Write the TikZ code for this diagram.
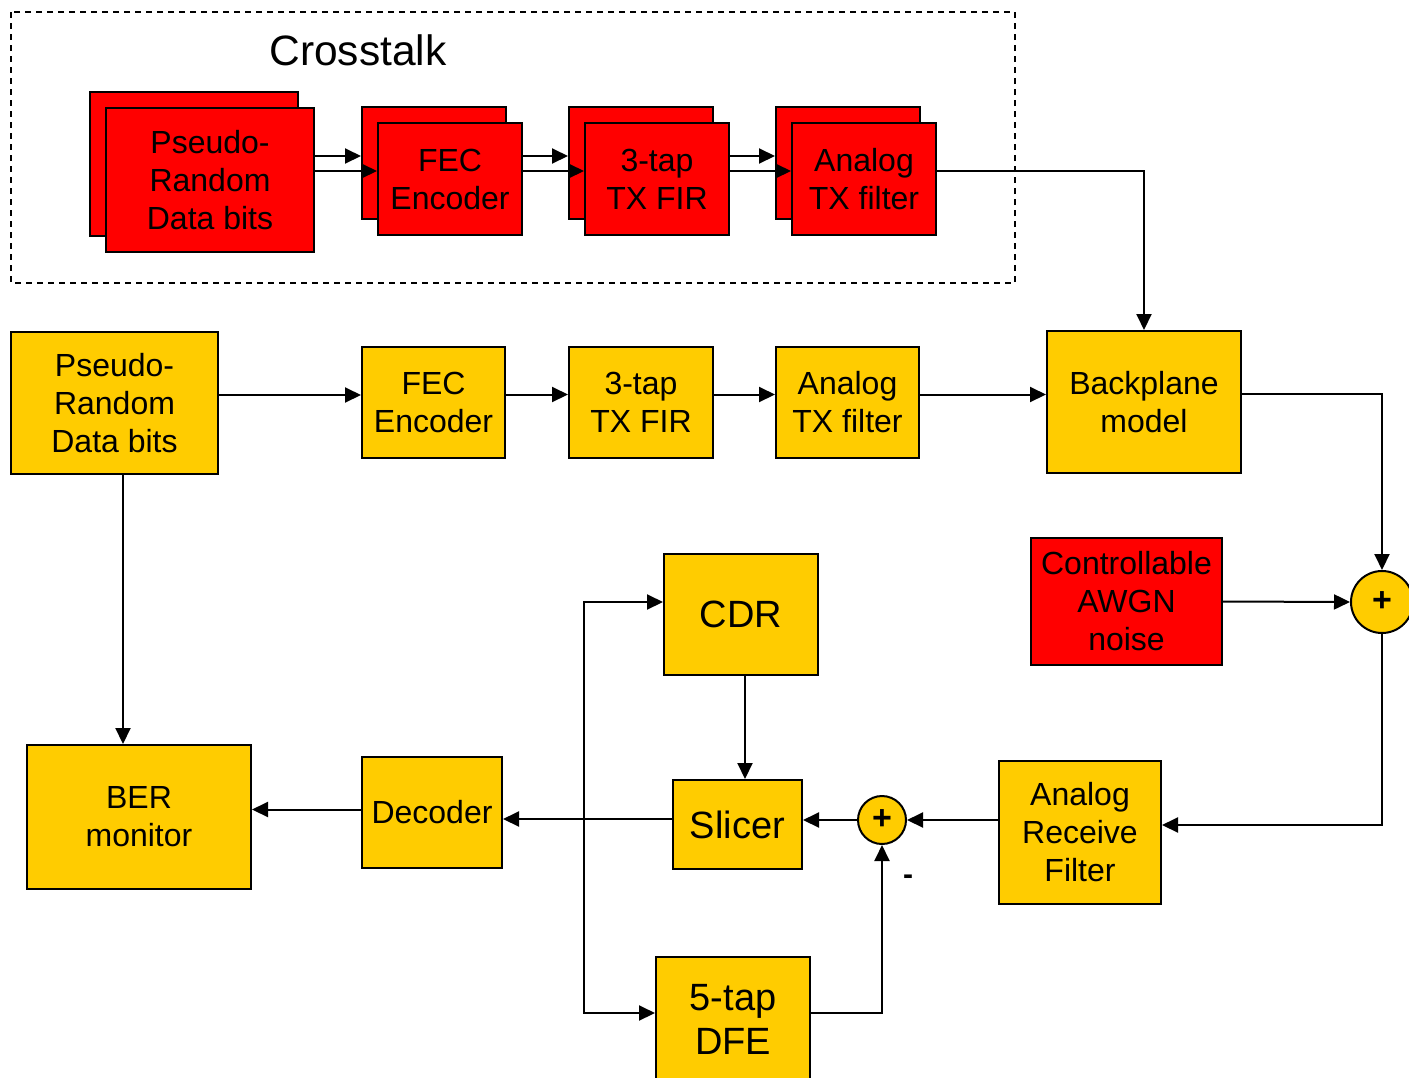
\documentclass[tikz,border=0pt]{standalone}
\usepackage{fontspec}
\setmainfont{Liberation Sans}
\usetikzlibrary{arrows.meta}
\definecolor{gold}{HTML}{FFCC00}
\definecolor{xred}{HTML}{FF0000}

\begin{document}
\begin{tikzpicture}[x=1pt, y=-1pt,
        blk/.style={draw, line width=2pt, fill=gold, align=center, inner sep=0pt,
            font=\fontsize{32}{38}\selectfont},
        xblk/.style={blk, fill=xred},
        big/.style={font=\fontsize{38}{44}\selectfont},
        sum/.style={draw, circle, line width=2pt, fill=gold, inner sep=0pt,
            font=\bfseries\fontsize{34}{34}\selectfont},
        arr/.style={line width=2pt, -{Triangle[length=16pt, width=15pt]}}]
    \useasboundingbox (0,0) rectangle (1409,1077);

    \draw[line width=1.5pt, dash pattern=on 6pt off 5pt] (11,12) rectangle (1015,283);
    \node (title) at (358,50) {\fontsize{42.5}{42.5}\selectfont Crosstalk};

    \node[xblk, minimum width=208pt, minimum height=144pt] (pb) at (194,164) {};
    \node[xblk, minimum width=208pt, minimum height=144pt] (pf) at (210,180) {Pseudo-\\Random\\Data bits};
    \node[xblk, minimum width=144pt, minimum height=112pt] (fb) at (434,163) {};
    \node[xblk, minimum width=144pt, minimum height=112pt] (ff) at (450,179) {FEC\\Encoder};
    \node[xblk, minimum width=144pt, minimum height=112pt] (tb) at (641,163) {};
    \node[xblk, minimum width=144pt, minimum height=112pt] (tf) at (657,179) {3-tap\\TX FIR};
    \node[xblk, minimum width=144pt, minimum height=112pt] (ab) at (848,163) {};
    \node[xblk, minimum width=144pt, minimum height=112pt] (af) at (864,179) {Analog\\TX filter};

    \draw[arr] (pf.east |- 0,156) -- (fb.west |- 0,156);
    \draw[arr] (pf.east |- 0,171) -- (ff.west |- 0,171);
    \draw[arr] (ff.east |- 0,156) -- (tb.west |- 0,156);
    \draw[arr] (ff.east |- 0,171) -- (tf.west |- 0,171);
    \draw[arr] (tf.east |- 0,156) -- (ab.west |- 0,156);
    \draw[arr] (tf.east |- 0,171) -- (af.west |- 0,171);

    \node[blk, minimum width=207pt, minimum height=142pt] (p1) at (114.5,403) {Pseudo-\\Random\\Data bits};
    \node[blk, minimum width=143pt, minimum height=111pt] (fec) at (433.5,402.5) {FEC\\Encoder};
    \node[blk, minimum width=144pt, minimum height=111pt] (fir) at (641,402.5) {3-tap\\TX FIR};
    \node[blk, minimum width=143pt, minimum height=111pt] (atx) at (847.5,402.5) {Analog\\TX filter};
    \node[blk, minimum width=194pt, minimum height=142pt] (bp) at (1144,402) {Backplane\\model};

    \node[sum, minimum size=62pt] (s1) at (1382,602) {+};
    \node[xblk, minimum width=191pt, minimum height=127pt] (noise) at (1126.5,601.5) {Controllable\\AWGN\\noise};
    \node[blk, minimum width=162pt, minimum height=143pt] (arf) at (1080,832.5) {Analog\\Receive\\Filter};
    \node[sum, minimum size=48pt] (s2) at (882,820) {+};
    \node[blk, big, minimum width=129pt, minimum height=89pt] (slicer) at (737.5,824.5) {Slicer};
    \node[blk, big, minimum width=154pt, minimum height=121pt] (cdr) at (741,614.5) {CDR};
    \node[blk, minimum width=140pt, minimum height=111pt] (dec) at (432,812) {Decoder};
    \node[blk, minimum width=224pt, minimum height=144pt] (ber) at (139,817) {BER\\monitor};
    \node[blk, big, minimum width=154pt, minimum height=124pt] (dfe) at (733,1019) {5-tap\\DFE};
    \node (minus) at (908,880) {\bfseries\fontsize{30}{30}\selectfont -};
    \coordinate (br) at (584,819);

    \draw[arr] (af.east |- 0,171) -| (bp.north);
    \draw[arr] ([yshift=8pt]p1.east) -- ([yshift=8pt]p1.east -| fec.west);
    \draw[arr] ([yshift=8pt]fec.east) -- ([yshift=8pt]fec.east -| fir.west);
    \draw[arr] ([yshift=8pt]fir.east) -- ([yshift=8pt]fir.east -| atx.west);
    \draw[arr] ([yshift=8pt]atx.east) -- ([yshift=8pt]atx.east -| bp.west);
    \draw[arr] ([yshift=8pt]bp.east) -| (s1.north);
    \draw[arr] (noise.east) -- (s1.west);
    \draw[arr] (s1.south) |- ([yshift=7.5pt]arf.east);
    \draw[arr] (arf.west |- s2) -- (s2);
    \draw[arr] (s2) -- (s2 -| slicer.east);
    \draw[arr] (cdr.south -| 745,0) -- (slicer.north -| 745,0);
    \draw[arr] ([yshift=5.5pt]slicer.west) -- ([yshift=5.5pt]slicer.west -| dec.east);
    \draw[arr] ([yshift=2.5pt]dec.west) -- ([yshift=2.5pt]dec.west -| ber.east);
    \draw[arr] ([xshift=8.5pt]p1.south) -- ([xshift=8.5pt]p1.south |- ber.north);
    \draw[arr] (br) |- ([yshift=12.5pt]cdr.west);
    \draw[arr] (br) |- ([yshift=6pt]dfe.west);
    \draw[arr] ([yshift=6pt]dfe.east) -| (s2.south);
\end{tikzpicture}
\end{document}
